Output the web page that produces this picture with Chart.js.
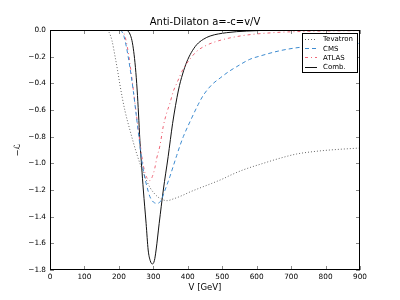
<!DOCTYPE html>
<html>
<head>
<meta charset="utf-8">
<script src="https://cdn.jsdelivr.net/npm/chart.js@4/dist/chart.umd.min.js"></script>
<style>
  html, body { margin: 0; padding: 0; background: #ffffff; }
  #wrap { width: 400px; height: 300px; }
</style>
</head>
<body>
<div id="wrap"><canvas id="c" width="400" height="300"></canvas></div>
<script>
// ---- Data (V in GeV, value of -L) ----
const chartTitle = "Anti-Dilaton a=-c=v/V";
const xAxisTitle = "V [GeV]";
const yAxisTitle = "\u2212\u2112";
const seriesNames = ["Tevatron", "CMS", "ATLAS", "Comb."];

const tevatronV = [0, 165, 172, 180, 189, 196, 203, 210, 218, 232, 252, 271, 290, 310, 325, 339, 360, 385, 406, 435, 470, 503, 523, 560, 619, 670, 716, 765, 813, 900];
const tevatronL = [0, 0, -0.02, -0.08, -0.2, -0.3, -0.41, -0.51, -0.61, -0.75, -0.93, -1.07, -1.18, -1.245, -1.27, -1.28, -1.265, -1.24, -1.215, -1.185, -1.15, -1.115, -1.09, -1.05, -1.0, -0.96, -0.93, -0.912, -0.9, -0.885];

const cmsV = [0, 200, 208, 215, 222, 232, 242, 250, 258, 266, 273, 281, 290, 300, 312, 322, 334, 348, 358, 368, 377, 387, 406, 430, 445, 470, 494, 520, 542, 580, 610, 668, 726, 800, 900];
const cmsL = [0, 0, -0.01, -0.05, -0.13, -0.28, -0.46, -0.63, -0.8, -0.97, -1.08, -1.17, -1.25, -1.29, -1.3, -1.28, -1.2, -1.1, -1.02, -0.94, -0.87, -0.8, -0.69, -0.56, -0.49, -0.41, -0.36, -0.31, -0.275, -0.22, -0.195, -0.155, -0.13, -0.115, -0.1];

const atlasV = [0, 205, 212, 218, 224, 232, 242, 252, 261, 268, 276, 283, 290, 297, 304, 310, 319, 329, 339, 348, 358, 368, 387, 397, 426, 450, 484, 552, 648, 750, 900];
const atlasL = [0, 0, -0.01, -0.05, -0.12, -0.25, -0.45, -0.66, -0.84, -0.97, -1.075, -1.115, -1.13, -1.1, -1.04, -0.96, -0.87, -0.72, -0.62, -0.55, -0.46, -0.4, -0.29, -0.25, -0.16, -0.12, -0.085, -0.045, -0.02, -0.01, -0.005];

const combV = [0, 215, 225, 232, 238, 243, 248, 253, 257, 261, 266, 271, 279, 285, 291, 297, 303, 308, 317, 329, 343, 356, 373, 385, 397, 410, 426, 445, 465, 513, 571, 650, 900];
const combL = [0, 0, -0.005, -0.03, -0.08, -0.16, -0.28, -0.45, -0.63, -0.83, -1.02, -1.2, -1.45, -1.65, -1.73, -1.755, -1.73, -1.65, -1.45, -1.2, -0.95, -0.7, -0.45, -0.33, -0.24, -0.17, -0.11, -0.07, -0.045, -0.02, -0.008, -0.002, 0];

const xTicks = [0, 100, 200, 300, 400, 500, 600, 700, 800, 900];
const yTicks = [0.0, -0.2, -0.4, -0.6, -0.8, -1.0, -1.2, -1.4, -1.6, -1.8];

// ---- helpers ----
const pts = (xs, ys) => xs.map((x, i) => ({ x: x, y: ys[i] }));
const FONT = "'DejaVu Sans', 'Liberation Sans', sans-serif";
const fmtMinus = s => s.replace('-', '\u2212');

const datasets = [
  { label: seriesNames[0], data: pts(tevatronV, tevatronL), borderColor: '#666666', borderDash: [1, 2] },
  { label: seriesNames[1], data: pts(cmsV, cmsL), borderColor: '#3d8bd0', borderDash: [4, 3] },
  { label: seriesNames[2], data: pts(atlasV, atlasL), borderColor: '#ee6677', borderDash: [3, 3, 1, 3] },
  { label: seriesNames[3], data: pts(combV, combL), borderColor: '#111111', borderDash: [] }
].map(d => Object.assign(d, {
  borderWidth: 1, pointRadius: 0, fill: false,
  cubicInterpolationMode: 'monotone', tension: 0.4
}));

// Plugin: frame + inward ticks + title + legend
const decor = {
  id: 'decor',
  afterDatasetsDraw(chart) {
    const ctx = chart.ctx;
    const a = chart.chartArea;
    const xs = chart.scales.x, ys = chart.scales.y;
    ctx.save();
    // inward ticks
    ctx.strokeStyle = '#888888';
    ctx.lineWidth = 1;
    ctx.beginPath();
    xTicks.forEach(v => {
      const px = Math.round(xs.getPixelForValue(v)) + 0.5;
      ctx.moveTo(px, a.bottom); ctx.lineTo(px, a.bottom - 4);
      ctx.moveTo(px, a.top); ctx.lineTo(px, a.top + 4);
    });
    yTicks.forEach(v => {
      const py = Math.round(ys.getPixelForValue(v)) + 0.5;
      ctx.moveTo(a.left, py); ctx.lineTo(a.left + 4, py);
      ctx.moveTo(a.right, py); ctx.lineTo(a.right - 4, py);
    });
    ctx.stroke();
    // frame
    ctx.strokeStyle = '#000000';
    ctx.lineWidth = 1;
    ctx.strokeRect(Math.round(a.left) + 0.5, Math.round(a.top) + 0.5,
                   Math.round(a.right - a.left) - 1, Math.round(a.bottom - a.top) - 1);
    // title
    ctx.fillStyle = '#000000';
    ctx.font = '10px ' + FONT;
    ctx.textAlign = 'center';
    ctx.textBaseline = 'middle';
    ctx.fillText(chartTitle, (a.left + a.right) / 2, 22.5);
    // legend
    const bx = 302.5, by = 33.5, bw = 55, bh = 39;
    ctx.fillStyle = '#ffffff';
    ctx.fillRect(bx, by, bw, bh);
    ctx.strokeStyle = '#000000';
    ctx.strokeRect(bx, by, bw, bh);
    ctx.font = '7px ' + FONT;
    ctx.textAlign = 'left';
    chart.data.datasets.forEach((d, i) => {
      const y = 39 + i * 9.2;
      ctx.save();
      ctx.strokeStyle = d.borderColor;
      ctx.setLineDash(d.borderDash || []);
      ctx.beginPath();
      ctx.moveTo(305, Math.round(y) + 0.5);
      ctx.lineTo(317, Math.round(y) + 0.5);
      ctx.stroke();
      ctx.restore();
      ctx.fillStyle = '#000000';
      ctx.fillText(d.label, 323, y + 0.5);
    });
    ctx.restore();
  }
};

new Chart(document.getElementById('c'), {
  type: 'line',
  data: { datasets: datasets },
  options: {
    responsive: false,
    animation: false,
    devicePixelRatio: 1,
    layout: { padding: { left: 0, right: 40, top: 30, bottom: 0 } },
    plugins: { legend: { display: false }, title: { display: false }, tooltip: { enabled: false } },
    scales: {
      x: {
        type: 'linear', min: 0, max: 900,
        afterFit: s => { s.height = 30; },
        afterBuildTicks: s => { s.ticks = xTicks.map(v => ({ value: v })); },
        grid: { display: false, drawTicks: false },
        border: { display: false },
        ticks: { autoSkip: false, maxRotation: 0, padding: 3, color: '#000', font: { family: FONT, size: 7.3 },
                 callback: v => String(v) },
        title: { display: true, text: xAxisTitle, color: '#000', font: { family: FONT, size: 8.5 }, padding: { top: 0, bottom: 7 } }
      },
      y: {
        type: 'linear', min: -1.8, max: 0,
        afterFit: s => { s.width = 50; },
        afterBuildTicks: s => { s.ticks = yTicks.map(v => ({ value: v })); },
        grid: { display: false, drawTicks: false },
        border: { display: false },
        ticks: { autoSkip: false, padding: 4, color: '#000', font: { family: FONT, size: 7.3 },
                 callback: v => fmtMinus(Number(v).toFixed(1)) },
        title: { display: true, text: yAxisTitle, color: '#000', font: { family: FONT, size: 8.5 }, padding: { top: 13, bottom: 0 } }
      }
    }
  },
  plugins: [decor]
});
</script>
</body>
</html>
